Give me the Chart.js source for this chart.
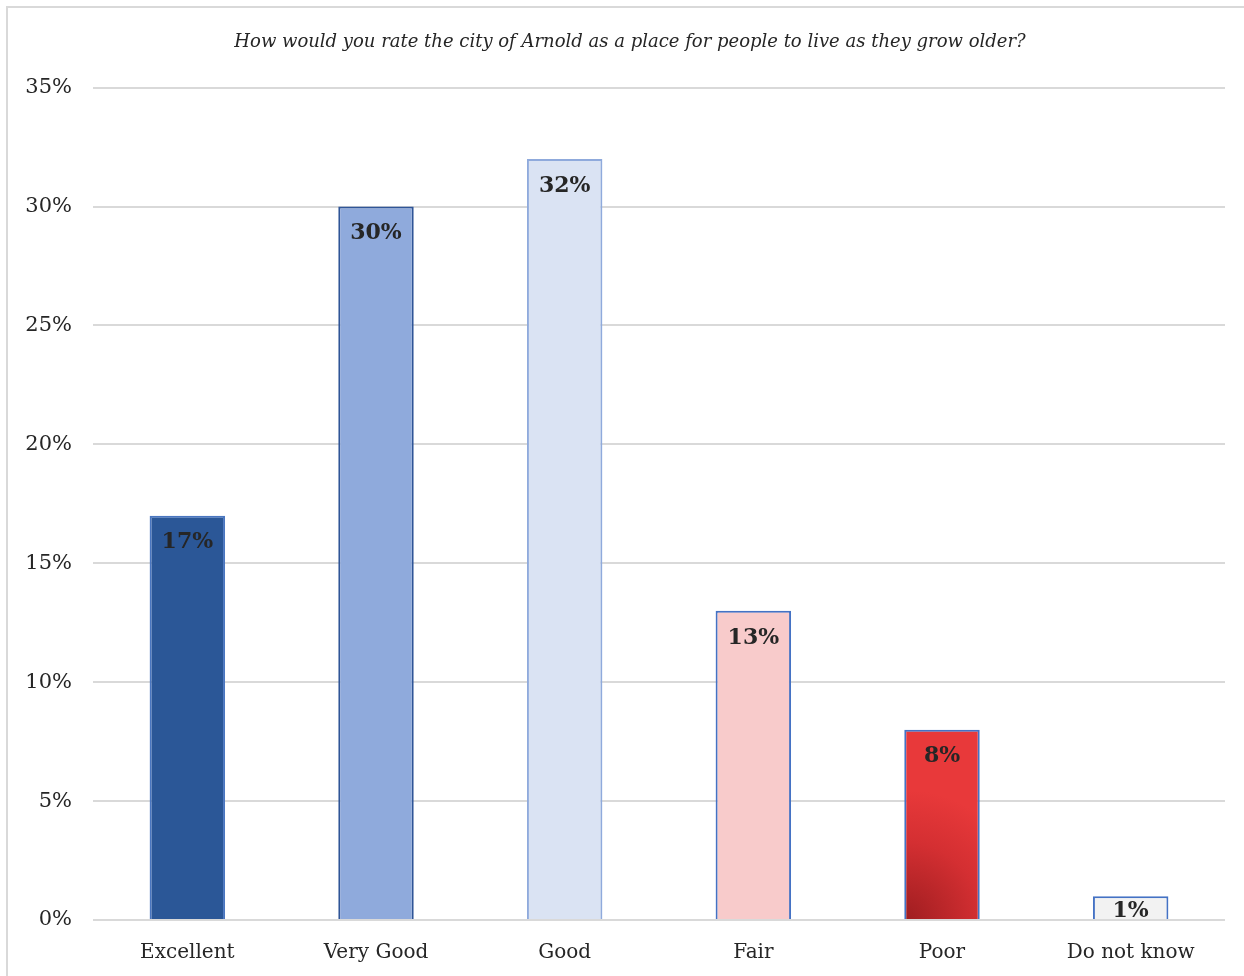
<!DOCTYPE html>
<html>
<head>
<meta charset="utf-8">
<script src="https://cdn.jsdelivr.net/npm/chart.js@4/dist/chart.umd.min.js"></script>
<style>
  html, body { margin: 0; padding: 0; background: #fff; }
  #wrap { width: 1244px; height: 976px; position: relative; }
</style>
</head>
<body>
<div id="wrap"><canvas id="rating-chart" width="1244" height="976"></canvas></div>
<script>
const categories = ["Excellent", "Very Good", "Good", "Fair", "Poor", "Do not know"];
const shares = [17, 30, 32, 13, 8, 1];
const yTicks = [0, 5, 10, 15, 20, 25, 30, 35];
const fills = ["#2B5797", "#8FAADC", "#DAE3F3", "#F8CBCB", "#E8393A", "#F2F2F2"];
const edges = ["#4A76C0", "#2F5597", "#8FAADC", "#4472C4", "#4472C4", "#4472C4"];

const titleText = "How would you rate the city of Arnold as a place for people to live as they grow older?";
const serif = "'DejaVu Serif', serif";

// Relleno degradado para la barra "Poor"
function barFill(ctx) {
  const i = ctx.dataIndex;
  if (categories[i] !== "Poor") return fills[i];
  const chart = ctx.chart;
  if (!chart.chartArea) return fills[i];
  const x = chart.scales.x.getPixelForValue(i);
  const base = chart.scales.y.getPixelForValue(0);
  const g = chart.ctx.createRadialGradient(x - 38, base, 0, x - 38, base, 130);
  g.addColorStop(0, "#9E1D20");
  g.addColorStop(0.6, "#D42F32");
  g.addColorStop(1, "#E8393A");
  return g;
}

// Marco gris alrededor del gráfico y título centrado en el marco
const framePlugin = {
  id: "frame",
  beforeDraw(chart) {
    const c = chart.ctx;
    c.save();
    c.strokeStyle = "#d9d9d9";
    c.lineWidth = 2;
    c.strokeRect(7, 7, 1400, 1400);
    c.restore();
  },
  afterDraw(chart) {
    const tb = chart.titleBlock;
    const c = chart.ctx;
    c.save();
    c.font = "italic 18px " + serif;
    c.fillStyle = "#262626";
    c.textAlign = "center";
    c.textBaseline = "middle";
    c.fillText(titleText, 630, (tb.top + 32 + tb.bottom - 34) / 2);
    c.restore();
  }
};

// Etiquetas de valor dentro de las barras
const valueLabels = {
  id: "valueLabels",
  afterDatasetsDraw(chart) {
    const c = chart.ctx;
    const area = chart.chartArea;
    c.save();
    c.beginPath();
    c.rect(area.left, area.top - 5, area.right - area.left, area.bottom - area.top + 5);
    c.clip();
    c.font = "bold 22px " + serif;
    c.fillStyle = "#262626";
    c.textAlign = "center";
    c.textBaseline = "middle";
    chart.getDatasetMeta(0).data.forEach((bar, i) => {
      const off = Math.min(27, (bar.base - bar.y) * 0.67);
      c.fillText(shares[i] + "%", bar.x, bar.y + off);
    });
    c.restore();
  }
};

new Chart(document.getElementById("rating-chart"), {
  type: "bar",
  data: {
    labels: categories,
    datasets: [{
      data: shares,
      backgroundColor: barFill,
      borderColor: edges,
      borderWidth: 2,
      borderSkipped: "bottom",
      barPercentage: 0.8,
      categoryPercentage: 0.5
    }]
  },
  options: {
    responsive: false,
    animation: false,
    layout: { padding: { left: 0, right: 19, top: 0, bottom: 0 } },
    plugins: {
      legend: { display: false },
      tooltip: { enabled: false },
      title: {
        display: true,
        text: titleText,
        color: "rgba(0,0,0,0)",
        font: { family: serif, size: 18, style: "italic", weight: "normal" },
        padding: { top: 32, bottom: 34 }
      }
    },
    scales: {
      x: {
        afterFit(scale) { scale.height = 56; },
        grid: { display: false },
        border: { display: false },
        ticks: { color: "#262626", font: { family: serif, size: 20 }, padding: 13 }
      },
      y: {
        min: 0,
        max: 35,
        afterFit(scale) { scale.width = 93; },
        afterBuildTicks(scale) { scale.ticks = yTicks.map(v => ({ value: v })); },
        grid: { color: "#d9d9d9", lineWidth: 2, drawTicks: false },
        border: { display: false },
        ticks: {
          color: "#262626",
          font: { family: serif, size: 21 },
          padding: 21,
          callback: v => v + "%"
        }
      }
    }
  },
  plugins: [framePlugin, valueLabels]
});
</script>
</body>
</html>
